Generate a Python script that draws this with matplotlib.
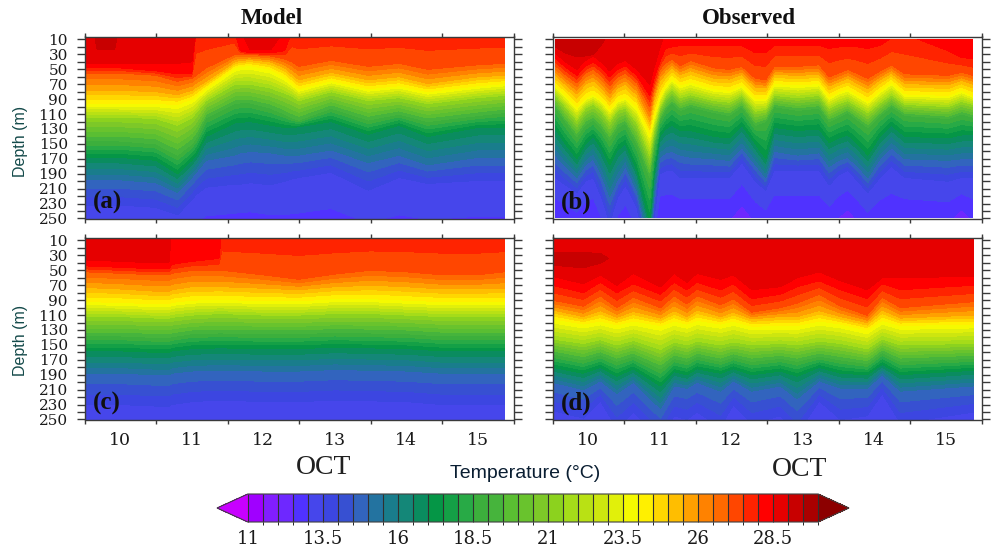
import numpy as np
import matplotlib
matplotlib.use('Agg')
import matplotlib.pyplot as plt
from matplotlib.colors import ListedColormap, BoundaryNorm
from matplotlib.patches import Rectangle

W, H = 993, 549

# isotherm temperatures (deg C), one per row of the depth tables below
temps = [30, 29, 28.5, 28, 27, 25.5, 24, 21.5, 19, 17, 15, 13.5, 12.5, 11.5]
temps_d = [28.7, 28.7, 0, 28.5, 28, 27, 25.5, 24, 21.5, 19, 17, 15, 13.5, 12.5, 11.5]

# panel (a) model, isotherm depth in m
days_a = [9.5, 9.62, 9.68, 9.92, 9.98, 10.5, 10.8, 11.0, 11.06, 11.2, 11.6, 11.68, 11.82, 12.1, 12.3, 12.4, 12.5,
          12.95, 13.47, 13.9, 14.3, 15, 15.37]
depths_a = [
    [-5, -5, 24, 24, -5, -5, -5, -5, -5, -5, -5, -5, -5, -5, -5, -5, -5, -5, -5, -5, -5, -5, -5],
    [42, 42, 42, 42, 42, 42, 42, 40, -2, -2, -2, -2, 24, 24, -2, -2, -2, -2, -2, -2, -2, -2, -2],
    [48, 48, 48, 48, 48, 52, 56, 56, -1, -1, -1, 25, 28, 28, 25, -1, -1, -1, -1, -1, -1, -1, -1],
    [55, 55, 55, 55, 55, 58, 66, 62, 58, 48, 30, 30, 30, 32, 36, 40, 46, 38, 46, 42, 50, 44, 42],
    [78, 78, 78, 78, 78, 80, 84, 78, 74, 66, 40, 38, 37, 40, 48, 56, 64, 54, 64, 60, 69, 60, 58],
    [96, 96, 96, 96, 96, 96, 97, 90, 86, 75, 48, 46, 45, 50, 60, 68, 76, 65, 76, 72, 80, 72, 69],
    [114, 114, 114, 114, 114, 116, 125, 115, 108, 92, 70, 70, 70, 75, 82, 86, 92, 80, 92, 88, 96, 88, 85],
    [146, 146, 146, 146, 146, 150, 165, 150, 142, 115, 96, 95, 95, 102, 110, 115, 118, 102, 118, 110, 120, 112, 108],
    [168, 168, 168, 168, 168, 172, 190, 172, 165, 140, 122, 121, 120, 125, 128, 128, 127, 120, 137, 125, 140, 128, 128],
    [198, 198, 198, 198, 198, 202, 215, 195, 188, 172, 165, 162, 160, 162, 165, 165, 165, 158, 175, 165, 178, 168, 168],
    [232, 232, 232, 232, 232, 235, 245, 225, 218, 208, 204, 204, 202, 205, 200, 197, 195, 188, 212, 195, 203, 199, 199],
    [300, 300, 300, 300, 300, 300, 300, 295, 290, 285, 282, 280, 280, 285, 290, 290, 290, 285, 300, 295, 300, 295, 295],
]

# panel (b) observed
days_b = [9.54, 9.68, 9.84, 9.96, 10.07, 10.18, 10.3, 10.41, 10.52, 10.68, 10.86, 10.92, 11.0, 11.08, 11.17, 11.29,
          11.43, 11.76, 11.97, 12.15, 12.34, 12.48, 12.6, 12.93, 13.23, 13.37, 13.5, 13.63, 13.77, 13.91, 14.08,
          14.24, 14.43, 15.03, 15.22, 15.38]
depths_b = [
    [20, 28, 33, 32, 30, 18] + [-2] * 30,
    [28, 40, 50, 38, 32, 40, 52, 42, 38, 50, 70, 48, 22] + [-1] * 23,
    [35, 47, 58, 46, 40, 48, 60, 50, 45, 58, 85, 62, 40,
     22, 20, 18, 18, 18, 18, 18, 28, 28, 18, 18, 18, 22, 20, 20, 20, 22, 18, 8, 3, 25, 34, 36],
    [45, 57, 68, 55, 50, 58, 72, 60, 55, 68, 100, 75, 50,
     42, 36, 45, 38, 48, 50, 46, 62, 64, 46, 46, 44, 60, 55, 50, 56, 62, 52, 44, 56, 58, 54, 58],
    [58, 70, 83, 70, 65, 74, 88, 75, 70, 84, 120, 90, 66,
     56, 48, 57, 52, 62, 63, 57, 74, 75, 57, 58, 57, 72, 67, 62, 69, 76, 64, 55, 69, 71, 65, 70],
    [71, 84, 100, 88, 83, 90, 103, 91, 87, 100, 136, 112, 87,
     72, 62, 71, 67, 76, 78, 71, 89, 89, 69, 71, 69, 87, 80, 76, 84, 92, 78, 67, 83, 85, 78, 85],
    [84, 100, 118, 102, 97, 105, 120, 105, 102, 122, 165, 132, 102,
     86, 77, 88, 84, 92, 94, 85, 106, 104, 85, 88, 85, 102, 96, 92, 100, 108, 95, 84, 97, 100, 93, 97],
    [100, 120, 140, 124, 118, 128, 145, 128, 122, 150, 195, 155, 118,
     104, 95, 105, 100, 108, 112, 100, 125, 120, 100, 105, 102, 120, 114, 108, 118, 128, 112, 100, 112, 116, 110, 114],
    [130, 150, 170, 150, 140, 155, 178, 158, 150, 185, 255, 190, 140,
     130, 125, 132, 132, 140, 142, 125, 150, 170, 128, 132, 130, 148, 142, 138, 150, 165, 140, 125, 140, 142, 138, 138],
    [165, 180, 195, 178, 170, 190, 220, 198, 180, 212, 285, 220, 168,
     162, 160, 165, 168, 170, 172, 155, 178, 195, 160, 165, 162, 180, 172, 168, 180, 195, 170, 155, 170, 172, 170, 170],
    [195, 205, 215, 200, 195, 220, 255, 222, 205, 235, 310, 250, 190,
     186, 185, 195, 195, 195, 195, 175, 200, 212, 185, 185, 185, 205, 192, 185, 200, 215, 195, 180, 195, 200, 195, 195],
    [250, 258, 268, 255, 250, 275, 310, 270, 258, 290, 360, 300, 250,
     250, 250, 252, 252, 252, 252, 232, 255, 265, 252, 252, 252, 262, 248, 238, 252, 268, 255, 252, 252, 255, 238, 252],
]

# panel (c) model
days_c = [9.5, 10, 10.5, 10.68, 10.72, 11.0, 11.38, 11.42, 12, 12.5, 13, 13.5, 14, 14.5, 15, 15.37]
depths_c = [
    [-5] * 16,
    [36, 38, 40, 40, -3, -3, -3, -3, -3, -3, -3, -3, -3, -3, -3, -3],
    [44, 46, 48, 48, 42, 38, 34, -2, -2, -2, -2, -2, -2, -2, -2, -2],
    [52, 54, 56, 56, 54, 50, 50, 50, 56, 62, 55, 50, 52, 56, 56, 52],
    [73, 75, 78, 78, 76, 72, 72, 72, 74, 76, 72, 70, 72, 75, 75, 74],
    [92, 93, 95, 95, 93, 90, 89, 89, 91, 91, 88, 88, 90, 92, 92, 92],
    [112, 112, 114, 114, 113, 110, 108, 108, 110, 110, 108, 108, 110, 112, 112, 112],
    [138, 138, 140, 140, 139, 135, 134, 134, 135, 135, 133, 134, 135, 138, 138, 138],
    [158, 158, 160, 160, 158, 155, 154, 154, 155, 155, 153, 154, 155, 158, 158, 158],
    [188, 188, 190, 190, 188, 185, 184, 184, 185, 185, 183, 184, 185, 188, 188, 188],
    [230, 230, 232, 232, 230, 226, 224, 224, 226, 226, 224, 225, 226, 230, 230, 230],
    [310] * 16,
]

# panel (d) observed; third row holds the warm patch near the top left
days_d = [9.5, 9.93, 10.17, 10.4, 10.63, 11.01, 11.2, 11.38, 11.52, 11.85, 12.03, 12.29, 12.69, 12.92, 13.23, 13.53, 13.9, 14.11, 14.37, 15.39]
patch_d = [29.3, 29.3, 29.2, 28.8, 28.8, 28.8, 28.8, 28.8, 28.8, 28.8, 28.8, 28.8, 28.8, 28.8, 28.8, 28.8, 28.8, 28.8, 28.8, 28.8]
depths_d = [
    [18] * 20,
    [34] * 20,
    [58, 68, 56, 70, 54, 72, 54, 66, 54, 62, 56, 76, 72, 60, 52, 64, 76, 60, 60, 58],
    [70, 80, 66, 80, 68, 82, 66, 76, 66, 76, 68, 88, 82, 72, 64, 76, 88, 68, 76, 70],
    [90, 98, 84, 100, 86, 100, 84, 95, 84, 96, 88, 106, 100, 94, 82, 98, 110, 86, 100, 92],
    [103, 112, 104, 113, 105, 114, 104, 112, 103, 112, 106, 115, 112, 112, 104, 112, 120, 103, 114, 110],
    [115, 122, 118, 123, 118, 124, 118, 122, 117, 122, 118, 125, 124, 124, 118, 122, 130, 117, 124, 122],
    [142, 148, 143, 150, 144, 156, 146, 150, 145, 150, 146, 150, 148, 150, 145, 148, 155, 142, 150, 148],
    [162, 170, 163, 172, 165, 182, 168, 172, 165, 172, 166, 172, 168, 172, 165, 170, 175, 160, 172, 168],
    [180, 188, 180, 192, 182, 205, 186, 190, 182, 188, 182, 190, 185, 192, 180, 188, 190, 176, 190, 184],
    [200, 210, 198, 215, 200, 235, 205, 208, 200, 212, 198, 212, 205, 222, 198, 208, 208, 190, 212, 205],
    [238, 248, 225, 262, 240, 275, 245, 250, 240, 260, 230, 255, 245, 270, 225, 250, 245, 215, 255, 240],
    [290] * 20,
]

day_labels = ['10', '11', '12', '13', '14', '15']
depth_labels = [str(d) for d in range(10, 251, 20)]
cbar_ticks = [11, 13.5, 16, 18.5, 21, 23.5, 26, 28.5]
cbar_labels = ['11', '13.5', '16', '18.5', '21', '23.5', '26', '28.5']

box_colors = [(160, 0, 255), (130, 30, 255), (110, 40, 255), (80, 50, 255), (70, 70, 235), (60, 70, 225),
              (55, 80, 210), (50, 100, 190), (35, 115, 160), (25, 125, 140), (20, 135, 120), (10, 140, 95),
              (5, 150, 70), (20, 160, 70), (40, 170, 70), (60, 175, 60), (70, 180, 60), (90, 190, 50),
              (105, 195, 45), (125, 200, 40), (140, 210, 30), (165, 220, 25), (185, 225, 20), (205, 230, 15),
              (225, 240, 10), (245, 250, 0), (255, 240, 0), (255, 215, 0), (255, 190, 0), (255, 160, 0),
              (255, 130, 0), (255, 105, 0), (255, 70, 0), (255, 35, 0), (255, 0, 0), (230, 0, 0),
              (200, 0, 0), (170, 0, 0)]
under_color = (200, 0, 255)
over_color = (140, 0, 0)

def rgb(c):
    return tuple(v / 255 for v in c)

levels = np.arange(11, 30.01, 0.5)
cmap = ListedColormap([rgb(c) for c in box_colors])
cmap.set_under(rgb(under_color))
cmap.set_over(rgb(over_color))
norm = BoundaryNorm(levels, cmap.N)

fig = plt.figure(figsize=(W / 100, H / 100), dpi=100)

def px_axes(x0, x1, y0, y1):
    return fig.add_axes([x0 / W, 1 - y1 / H, (x1 - x0) / W, (y1 - y0) / H])

def px_text(x, y, s, **kw):
    fig.text(x / W, 1 - y / H, s, ha='center', va='center', **kw)

def panel(rect, days, rows, row_temps, letter, show_y, show_x, patch=None, top_clip=None):
    ax = px_axes(*rect)
    n = len(days)
    Y = np.array([[-20] * n] + rows + [[400] * n], dtype=float)
    X = np.tile(days, (Y.shape[0], 1))
    Z = np.tile(np.array(row_temps, dtype=float)[:, None], (1, n))
    if patch is not None:
        Z[2] = patch
    cs = ax.contourf(X, Y, Z, levels=levels, cmap=cmap, norm=norm, extend='both')
    if top_clip is not None:
        cs.set_clip_path(Rectangle((9.5, top_clip), 6, 250 - top_clip, transform=ax.transData))
    ax.set_xlim(9.5, 15.5)
    ax.set_ylim(250, 6)
    for s in ax.spines.values():
        s.set_color('#3a3a3a')
        s.set_linewidth(1.0)
    ax.set_xticks(np.arange(9.5, 15.6, 1))
    ax.set_xticklabels([])
    ax.set_xticks(np.arange(10, 15.1, 1), day_labels if show_x else [''] * 6, minor=True)
    ax.tick_params(axis='x', which='major', top=True, bottom=True, length=3, width=1, color='#3a3a3a')
    ax.tick_params(axis='x', which='minor', length=0, pad=9, labelsize=12.5)
    ax.set_yticks(np.arange(10, 251, 20))
    ax.set_yticklabels(depth_labels if show_y else [''] * 13)
    ax.set_yticks(np.arange(20, 241, 20), minor=True)
    ax.tick_params(axis='y', which='both', left=True, right=True, length=6, width=1, color='#3a3a3a',
                   direction='out', pad=6, labelsize=11)
    for lab in ax.get_xticklabels(minor=True) + ax.get_yticklabels():
        lab.set_family('DejaVu Serif')
        lab.set_color('#1a1a1a')
    ax.text(0.02, 0.09, letter, transform=ax.transAxes, family='Liberation Serif', weight='bold', fontsize=18,
            ha='left', va='center', color='#101010')
    return cs

cs = panel((84.5, 513.5, 36.5, 218.5), days_a, depths_a, temps, '(a)', True, False)
panel((552.5, 981.5, 36.5, 218.5), days_b, depths_b, temps, '(b)', False, False, top_clip=10)
panel((84.5, 513.5, 237.5, 419.5), days_c, depths_c, temps, '(c)', True, True)
panel((552.5, 981.5, 237.5, 419.5), days_d, depths_d, temps_d, '(d)', False, True, patch=patch_d)

px_text(272, 19, 'Model', family='Liberation Serif', weight='bold', fontsize=16.5, color='#101010')
px_text(749, 19, 'Observed', family='Liberation Serif', weight='bold', fontsize=16.5, color='#101010')
px_text(20, 141, 'Depth (m)', family='Liberation Sans', fontsize=11.5, rotation=90, color='#144a4a')
px_text(20, 340, 'Depth (m)', family='Liberation Sans', fontsize=11.5, rotation=90, color='#144a4a')
px_text(324, 467, 'OCT', family='Liberation Serif', fontsize=20, color='#202020')
px_text(800, 469, 'OCT', family='Liberation Serif', fontsize=20, color='#202020')
px_text(525, 474, 'Temperature (°C)', family='Liberation Sans', fontsize=14, color='#0a1e32')

cax = px_axes(217, 849, 494, 522)
cb = fig.colorbar(cs, cax=cax, orientation='horizontal', drawedges=True, extendfrac=0.054, ticks=cbar_ticks)
cb.set_ticklabels(cbar_labels)
cb.ax.tick_params(length=0, pad=6, labelsize=13)
for lab in cb.ax.get_xticklabels():
    lab.set_family('DejaVu Serif')
    lab.set_color('#1a1a1a')
cb.dividers.set_color('#303030')
cb.dividers.set_linewidth(0.8)
cb.outline.set_edgecolor('#404040')
cb.outline.set_linewidth(0.8)

fig.savefig('out.png', dpi=100)
